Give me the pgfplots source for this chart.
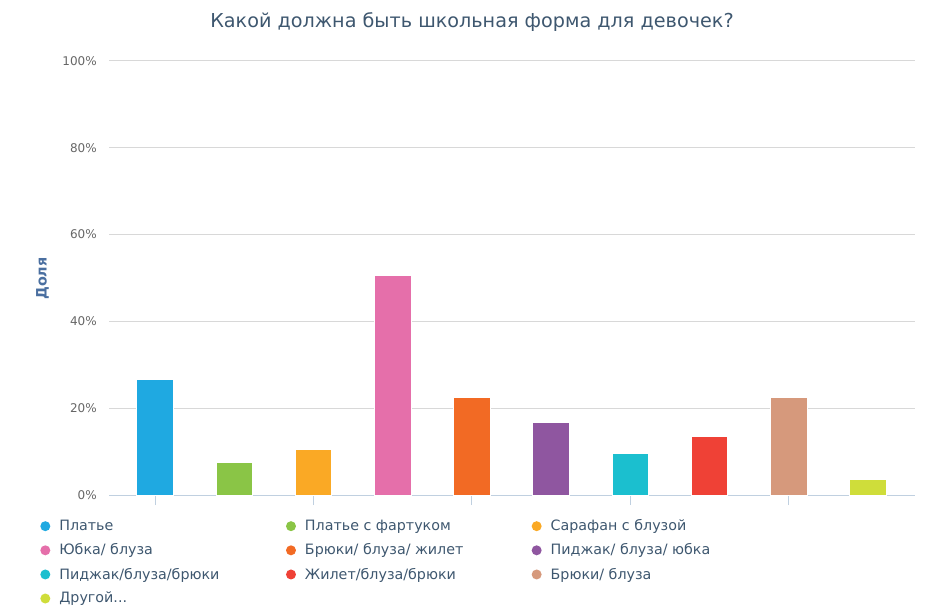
\documentclass[border=0pt]{standalone}
\usepackage{pgfplots}
\pgfplotsset{compat=1.18}
\usepackage{fontspec}
\setmainfont{DejaVu Sans}
\definecolor{titlec}{HTML}{3E576F}
\definecolor{ylabc}{HTML}{4A6FA0}
\definecolor{tickc}{HTML}{666666}
\definecolor{legc}{HTML}{3E576F}
\definecolor{gridc}{HTML}{D8D8D8}
\definecolor{axisc}{HTML}{C0D0E0}
\definecolor{c1}{HTML}{1FA9E1}
\definecolor{c2}{HTML}{8AC546}
\definecolor{c3}{HTML}{FAA925}
\definecolor{c4}{HTML}{E56FAA}
\definecolor{c5}{HTML}{F26A24}
\definecolor{c6}{HTML}{8F56A0}
\definecolor{c7}{HTML}{1BBFCF}
\definecolor{c8}{HTML}{EF4136}
\definecolor{c9}{HTML}{D6997C}
\definecolor{c10}{HTML}{CFDD3A}
\begin{document}
\begin{tikzpicture}[x=0.75pt,y=0.75pt]
\useasboundingbox (0,0) rectangle (927,607);
\begin{axis}[
  at={(81.75pt,84pt)}, anchor=south west,
  scale only axis, width=604.5pt, height=325.5pt,
  xmin=-0.581, xmax=9.596, ymin=0, ymax=100,
  axis x line*=bottom, axis y line*=left,
  y axis line style={draw=none},
  x axis line style={draw=axisc, line width=0.75pt, -},
  xtick={0,2,4,6,8}, xticklabels={},
  x tick style={draw=axisc, line width=0.75pt},
  tick align=outside, major tick length=7.5pt,
  ytick={0,20,40,60,80,100},
  yticklabels={0\%,20\%,40\%,60\%,80\%,100\%},
  y tick style={draw=none},
  ymajorgrids, grid style={draw=gridc, line width=0.75pt},
  yticklabel style={font=\fontsize{9}{10}\selectfont, text=tickc, inner sep=0pt, xshift=-1.5pt},
  legend columns=3,
  legend cell align=left,
  legend style={draw=none, fill=none, at={(-0.0905,-0.05)}, anchor=north west,
    font=\fontsize{10.7}{12}\selectfont, text=legc,
    nodes={inner sep=0pt}, row sep=8.3pt,
    /tikz/every odd column/.append style={column sep=6.75pt}},
  legend image code/.code={\fill[#1,draw=none] (0pt,0pt) circle (3.75pt);},
]
\addplot[ybar, bar width=27.5pt, bar shift=0pt, fill=c1, draw=white, line width=0.5pt] coordinates {(0,26.7)};
\addlegendentry{\makebox[170pt][l]{Платье}}
\addplot[ybar, bar width=27.5pt, bar shift=0pt, fill=c2, draw=white, line width=0.5pt] coordinates {(1,7.6)};
\addlegendentry{\makebox[170pt][l]{Платье с фартуком}}
\addplot[ybar, bar width=27.5pt, bar shift=0pt, fill=c3, draw=white, line width=0.5pt] coordinates {(2,10.6)};
\addlegendentry{\makebox[170pt][l]{Сарафан с блузой}}
\addplot[ybar, bar width=27.5pt, bar shift=0pt, fill=c4, draw=white, line width=0.5pt] coordinates {(3,50.5)};
\addlegendentry{\makebox[170pt][l]{Юбка/ блуза}}
\addplot[ybar, bar width=27.5pt, bar shift=0pt, fill=c5, draw=white, line width=0.5pt] coordinates {(4,22.5)};
\addlegendentry{\makebox[170pt][l]{Брюки/ блуза/ жилет}}
\addplot[ybar, bar width=27.5pt, bar shift=0pt, fill=c6, draw=white, line width=0.5pt] coordinates {(5,16.7)};
\addlegendentry{\makebox[170pt][l]{Пиджак/ блуза/ юбка}}
\addplot[ybar, bar width=27.5pt, bar shift=0pt, fill=c7, draw=white, line width=0.5pt] coordinates {(6,9.7)};
\addlegendentry{\makebox[170pt][l]{Пиджак/блуза/брюки}}
\addplot[ybar, bar width=27.5pt, bar shift=0pt, fill=c8, draw=white, line width=0.5pt] coordinates {(7,13.6)};
\addlegendentry{\makebox[170pt][l]{Жилет/блуза/брюки}}
\addplot[ybar, bar width=27.5pt, bar shift=0pt, fill=c9, draw=white, line width=0.5pt] coordinates {(8,22.5)};
\addlegendentry{\makebox[170pt][l]{Брюки/ блуза}}
\addplot[ybar, bar width=27.5pt, bar shift=0pt, fill=c10, draw=white, line width=0.5pt] coordinates {(9,3.6)};
\addlegendentry{\makebox[170pt][l]{Другой...}}
\end{axis}
\node[rotate=90, font=\fontsize{10.75}{11}\selectfont\bfseries, text=ylabc] at (42.5,328.5) {Доля};
\node[font=\fontsize{14.4}{16}\selectfont, text=titlec] at (472,585) {Какой должна быть школьная форма для девочек?};
\end{tikzpicture}
\end{document}
